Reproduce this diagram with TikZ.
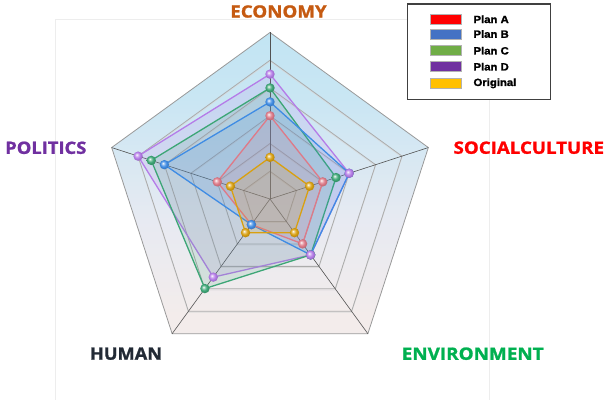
\documentclass[tikz,border=0pt]{standalone}
\usepackage{fontspec}
\setmainfont{Liberation Sans}
\newfontfamily\labfont[BoldFeatures={FakeBold=1.2}]{Open Sans}
\newfontfamily\legfont[BoldFeatures={FakeBold=1.5}]{Liberation Sans}
\definecolor{pA}{HTML}{DE7A88}
\definecolor{pB}{HTML}{3F8CE4}
\definecolor{pC}{HTML}{3DA676}
\definecolor{pD}{HTML}{B57CE8}
\definecolor{pO}{HTML}{D9A010}
\definecolor{lA}{HTML}{FF0000}
\definecolor{lB}{HTML}{4472C4}
\definecolor{lC}{HTML}{70AD47}
\definecolor{lD}{HTML}{7030A0}
\definecolor{lO}{HTML}{FFC000}
\definecolor{cEco}{HTML}{C55A11}
\definecolor{cPol}{HTML}{7030A0}
\definecolor{cSoc}{HTML}{FF0000}
\definecolor{cHum}{HTML}{222A35}
\definecolor{cEnv}{HTML}{00B050}
\definecolor{bgA}{HTML}{F6EDE7}
\definecolor{bgB}{HTML}{F3ECEB}
\definecolor{bgC}{HTML}{E7EAF2}
\definecolor{bgD}{HTML}{C9E6F3}
\definecolor{bgE}{HTML}{B3E1F3}
\pgfdeclareverticalshading{bgshade}{100bp}{%
  color(0bp)=(bgA); color(28bp)=(bgB); color(44bp)=(bgC); color(64bp)=(bgD); color(100bp)=(bgE)}
\colorlet{mbcol}{red}
\pgfdeclareradialshading[mbcol]{myball}{\pgfpoint{-8bp}{8bp}}{%
  color(0bp)=(white); color(7bp)=(mbcol!55!white); color(16bp)=(mbcol); color(26bp)=(mbcol!85!black); color(50bp)=(mbcol!70!black)}
\newcommand{\RR}{166.5}
\newcommand{\radarseries}[6]{%
  \filldraw[seriesline, draw=#1, fill=#1] (90:{#2*\RR}) -- (18:{#3*\RR}) -- (-54:{#4*\RR}) -- (-126:{#5*\RR}) -- (162:{#6*\RR}) -- cycle;
}
\newcommand{\radarballs}[6]{%
  \shade[mball=#1] (90:{#2*\RR}) circle (4.7);
  \shade[mball=#1] (18:{#3*\RR}) circle (4.7);
  \shade[mball=#1] (-54:{#4*\RR}) circle (4.7);
  \shade[mball=#1] (-126:{#5*\RR}) circle (4.7);
  \shade[mball=#1] (162:{#6*\RR}) circle (4.7);
}
\newcommand{\pentapath}[1]{(90:{#1}) -- (18:{#1}) -- (-54:{#1}) -- (-126:{#1}) -- (162:{#1}) -- cycle}
\tikzset{
  mball/.style={/utils/exec={\colorlet{mbcol}{#1}}, shading=myball},
  seriesline/.style={line width=1.3pt, line join=round, fill opacity=0.15},
  ringline/.style={draw=black!33, line width=0.8pt},
  ringshadow/.style={draw=white!85!black, line width=0.7pt, opacity=0.8},
  spokeline/.style={draw=black!68, line width=0.6pt},
  axislabel/.style={font=\labfont\bfseries\fontsize{17}{17}\selectfont, inner sep=0pt},
  legtext/.style={font=\legfont\bfseries\fontsize{10.5}{10.5}\selectfont, inner sep=0pt, anchor=west},
  legswatch/.style={draw=black!30, line width=0.5pt},
  framefaint/.style={draw=black!7, line width=0.6pt}
}
\begin{document}
\begin{tikzpicture}[x=1pt,y=1pt]
\useasboundingbox (0,0) rectangle (607,400);
% faint frame
\draw[framefaint] (55,0) -- (55,380.7) -- (489,380.7) -- (489,0);
% chart
\begin{scope}[shift={(270,201)}]
  \shade[shading=bgshade] \pentapath{\RR};
  \foreach \k in {1,...,5} {
    \draw[ringshadow, yshift=-1.1pt] \pentapath{\k*\RR/6};
    \draw[ringline] \pentapath{\k*\RR/6};
  }
  \draw[ringline, draw=black!40] \pentapath{\RR};
  \foreach \a in {90,18,-54,-126,162} {
    \draw[spokeline] (0,0) -- (\a:\RR);
  }
  \radarseries{pD}{0.75}{0.5}{0.415}{0.58}{0.833}
  \radarseries{pC}{0.667}{0.417}{0.415}{0.665}{0.75}
  \radarseries{pB}{0.583}{0.5}{0.415}{0.19}{0.667}
  \radarseries{pA}{0.5}{0.333}{0.333}{0.19}{0.333}
  \radarseries{pO}{0.25}{0.25}{0.25}{0.25}{0.25}
  \radarballs{pO}{0.25}{0.25}{0.25}{0.25}{0.25}
  \radarballs{pA}{0.5}{0.333}{0.333}{0.19}{0.333}
  \radarballs{pB}{0.583}{0.5}{0.415}{0.19}{0.667}
  \radarballs{pC}{0.667}{0.417}{0.415}{0.665}{0.75}
  \radarballs{pD}{0.75}{0.5}{0.415}{0.58}{0.833}
\end{scope}
% axis labels
\node[axislabel, text=cEco] (eco) at (278.5,388.5) {\scalebox{1.1}[1]{ECONOMY}};
\node[axislabel, text=cPol] (pol) at (45.8,252.2) {\scalebox{1.08}[1]{POLITICS}};
\node[axislabel, text=cSoc] (soc) at (528.8,252.3) {\scalebox{1.1}[1]{SOCIALCULTURE}};
\node[axislabel, text=cHum] (hum) at (126,46.3) {\scalebox{1.07}[1]{HUMAN}};
\node[axislabel, text=cEnv] (env) at (472.7,46.3) {\scalebox{1.11}[1]{ENVIRONMENT}};
% legend
\draw[draw=black!75, line width=1.1pt, fill=white] (407.5,396) rectangle (550.5,300.5);
\foreach \c/\t/\yy [count=\i] in {lA/Plan A/380.7, lB/Plan B/366, lC/Plan C/349.3, lD/Plan D/333.3, lO/Original/316.7} {
  \draw[legswatch, fill=\c] (430.7,\yy-5) rectangle (461.7,\yy+5);
  \node[legtext] (leg\i) at (473.3,\yy) {\scalebox{1.08}[1]{\t}};
}
\end{tikzpicture}
\end{document}
